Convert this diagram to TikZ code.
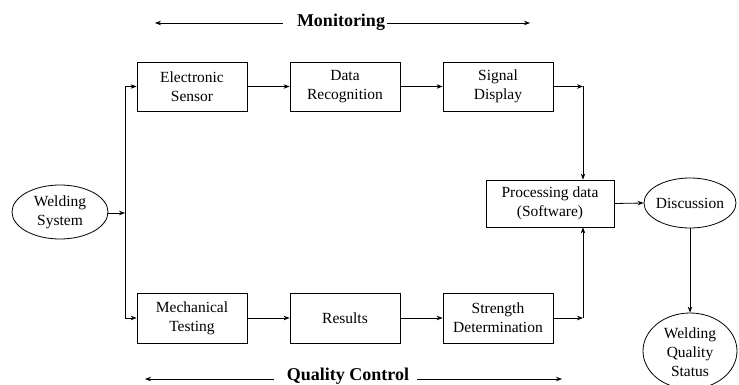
\documentclass[tikz,border=0pt]{standalone}
\usepackage{fontspec}
\setmainfont{Liberation Serif}
\usetikzlibrary{arrows.meta,shapes.geometric}
\begin{document}
\begin{tikzpicture}[x=1pt,y=-1pt,
  lbl/.style={font=\fontsize{15.5}{19}\selectfont, align=center, inner sep=0pt},
  box/.style={draw, line width=0.8pt, minimum width=110pt, minimum height=49pt, lbl},
  ell/.style={draw, ellipse, line width=0.8pt, inner sep=0pt},
  arr/.style={-{Stealth[length=6pt,width=4.5pt]}, line width=0.8pt},
  head/.style={font=\bfseries\fontsize{18}{20}\selectfont, inner sep=0pt}]
\useasboundingbox (0,0) rectangle (739,385);
\fill[white] (0,0) rectangle (739,385);
% boxes
\node[box] (es) at (192,86.5) {Electronic\\Sensor};
\node[box] (dr) at (345,86.5) {Data\\Recognition};
\node[box] (sd) at (498,86.5) {Signal\\Display};
\node[box, minimum height=50pt] (mt) at (192,318) {Mechanical\\Testing};
\node[box, minimum height=50pt] (rs) at (345,318) {Results};
\node[box, minimum height=50pt] (st) at (498,318) {Strength\\Determination};
\node[box, minimum width=128pt, minimum height=47pt] (pd) at (550,203.5) {Processing data\\(Software)};
% ellipses
\node[ell, minimum width=96pt, minimum height=54pt] (ws) at (60,212) {};
\node[lbl] (wst) at (ws.center) {Welding\\System};
\node[ell, minimum width=92pt, minimum height=50pt] (dc) at (690,203) {};
\node[lbl] (dct) at (dc.center) {Discussion};
\node[ell, minimum width=94pt, minimum height=76pt] (wq) at (690,351) {};
\node[lbl] (wqt) at (690,352) {Welding\\Quality\\Status};
% headings
\node[head] (mon) at (341,22) {Monitoring};
\node[head] (qc) at (348,376.5) {Quality Control};
\coordinate (ml) at (155,23);
\coordinate (mr) at (530,23);
\coordinate (ql) at (145,379);
\coordinate (qr) at (562,379);
\draw[arr] ([xshift=-14pt]mon.west |- ml) -- (ml);
\draw[arr] ([xshift=2pt]mon.east |- mr) -- (mr);
\draw[arr] ([xshift=-13pt]qc.west |- ql) -- (ql);
\draw[arr] ([xshift=8pt]qc.east |- qr) -- (qr);
% connectors
\coordinate (jn) at (125,213);
\draw[arr] (ws.east |- jn) -- (jn);
\draw[line width=0.8pt] (jn |- es.west) -- (jn |- mt.west);
\draw[arr] (jn |- es.west) -- (es.west);
\draw[arr] (jn |- mt.west) -- (mt.west);
\draw[arr] (es) -- (dr);
\draw[arr] (dr) -- (sd);
\draw[arr] (mt) -- (rs);
\draw[arr] (rs) -- (st);
\coordinate (c1) at (583,86.5);
\coordinate (c2) at (583,318);
\draw[arr] (sd.east) -- (c1);
\draw[arr] (c1) -- (c1 |- pd.north);
\draw[arr] (st.east) -- (c2);
\draw[arr] (c2) -- (c2 |- pd.south);
\draw[arr] (pd.east) -- (dc.west);
\draw[arr] (dc.south) -- (wq.north);
\end{tikzpicture}
\end{document}
